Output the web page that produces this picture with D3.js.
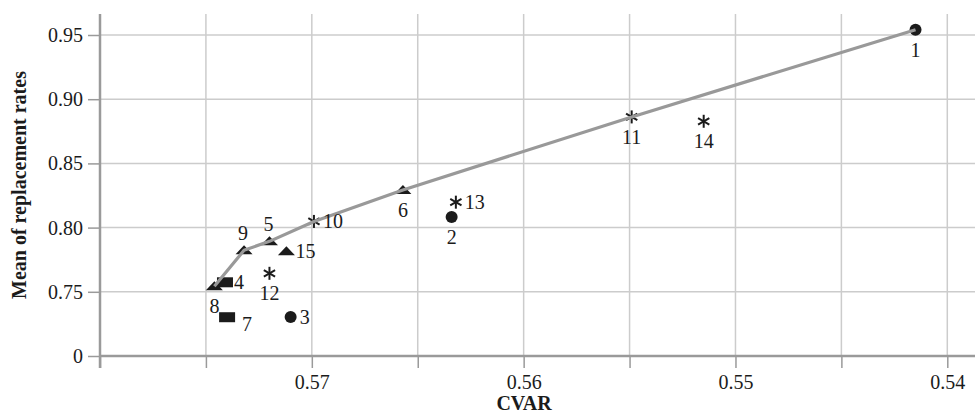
<!DOCTYPE html>
<html>
<head>
<meta charset="utf-8">
<script src="https://cdn.jsdelivr.net/npm/d3@7"></script>
<style>
  html, body { margin: 0; padding: 0; background: #fff; }
  svg { display: block; font-family: "Liberation Serif", "Times New Roman", serif; }
</style>
</head>
<body>
<svg id="chart" width="975" height="414"></svg>
<script>
// ---- data ----
const ids = [1, 2, 3, 4, 5, 6, 7, 8, 9, 10, 11, 12, 13, 14, 15];
const cvar = [0.5415, 0.5634, 0.5710, 0.5741, 0.5720, 0.5657, 0.5740, 0.5746, 0.5732, 0.5699, 0.5549, 0.5720, 0.5632, 0.5515, 0.5712];
const meanRate = [0.9541, 0.8082, 0.7304, 0.7574, 0.7893, 0.8293, 0.7302, 0.7543, 0.7823, 0.8048, 0.8862, 0.7644, 0.8198, 0.8828, 0.7815];
const shapes = ["circle", "circle", "circle", "square", "triangle", "triangle", "square", "triangle", "triangle", "asterisk", "asterisk", "asterisk", "asterisk", "asterisk", "triangle"];
const labelPlacement = ["below", "below", "right", "right", "above", "below", "rightLow", "below", "above", "right", "below", "below", "right", "below", "right"];
const frontierIds = [8, 9, 5, 10, 6, 11, 1];
const xTicks = [0.58, 0.575, 0.57, 0.565, 0.56, 0.555, 0.55, 0.545, 0.54];
const xTickLabels = ["", "", "0.57", "", "0.56", "", "0.55", "", "0.54"];
const yTicks = [0.70, 0.75, 0.80, 0.85, 0.90, 0.95];
const yTickLabels = ["0", "0.75", "0.80", "0.85", "0.90", "0.95"];
const xTitle = "CVAR";
const yTitle = "Mean of replacement rates";

// ---- layout ----
const plotLeft = 100, axisY = 356, plotTop = 14, rightEdge = 975;
const serif = "'Liberation Serif', 'Times New Roman', serif";
const svg = d3.select("#chart");

const x = d3.scaleLinear().domain([0.58, 0.54]).range([plotLeft, 947.3]);
const y = d3.scaleLinear().domain([0.70, 0.95]).range([axisY, 35]);

const gridColor = "#cccccc", axisColor = "#9a9a9a", ink = "#1b1b1b";

// vertical gridlines
svg.append("g").selectAll("line").data(xTicks.filter(t => t !== 0.58)).join("line")
  .attr("x1", d => x(d)).attr("x2", d => x(d))
  .attr("y1", plotTop).attr("y2", axisY)
  .attr("stroke", gridColor).attr("stroke-width", 1.5);
// horizontal gridlines
svg.append("g").selectAll("line").data(yTicks.filter(t => t !== 0.70)).join("line")
  .attr("x1", plotLeft).attr("x2", rightEdge)
  .attr("y1", d => y(d)).attr("y2", d => y(d))
  .attr("stroke", gridColor).attr("stroke-width", 1.5);

// x axis
const xAxis = d3.axisBottom(x).tickValues(xTicks).tickSize(12).tickPadding(7)
  .tickFormat((d, i) => xTickLabels[i]);
const gx = svg.append("g").attr("transform", `translate(0,${axisY})`).call(xAxis)
  .attr("font-family", serif).attr("font-size", 20);
gx.select(".domain").remove();
gx.selectAll(".tick line").attr("stroke", axisColor).attr("stroke-width", 1.5);
gx.selectAll(".tick text").attr("fill", ink).attr("dy", "0.71em");
svg.append("line").attr("x1", plotLeft).attr("x2", rightEdge).attr("y1", axisY).attr("y2", axisY)
  .attr("stroke", axisColor).attr("stroke-width", 2.5);

// y axis
const yAxis = d3.axisLeft(y).tickValues(yTicks).tickSize(12).tickPadding(5)
  .tickFormat((d, i) => yTickLabels[i]);
const gy = svg.append("g").attr("transform", `translate(${plotLeft},0)`).call(yAxis)
  .attr("font-family", serif).attr("font-size", 20);
gy.select(".domain").remove();
gy.selectAll(".tick line").attr("stroke", axisColor).attr("stroke-width", 1.5);
gy.selectAll(".tick text").attr("fill", ink);
svg.append("line").attr("x1", plotLeft).attr("x2", plotLeft).attr("y1", plotTop).attr("y2", axisY + 12)
  .attr("stroke", axisColor).attr("stroke-width", 2.5);

// titles
svg.append("text").attr("x", 524).attr("y", 410).attr("text-anchor", "middle")
  .attr("font-family", serif).attr("font-size", 20).attr("font-weight", "bold").attr("fill", ink).text(xTitle);
svg.append("text").attr("transform", "translate(26,185) rotate(-90)").attr("text-anchor", "middle")
  .attr("font-family", serif).attr("font-size", 20).attr("font-weight", "bold").attr("fill", ink).text(yTitle);

// points
const pts = ids.map((id, i) => ({ id, cx: x(cvar[i]), cy: y(meanRate[i]), shape: shapes[i], place: labelPlacement[i] }));
const gm = svg.append("g");
pts.forEach(p => {
  if (p.shape === "circle") {
    gm.append("circle").attr("cx", p.cx).attr("cy", p.cy).attr("r", 6).attr("fill", ink);
  } else if (p.shape === "square") {
    gm.append("rect").attr("x", p.cx - 8).attr("y", p.cy - 5).attr("width", 16).attr("height", 10).attr("fill", ink);
  } else if (p.shape === "triangle") {
    gm.append("path").attr("d", `M${p.cx - 8.5},${p.cy + 4}L${p.cx + 8.5},${p.cy + 4}L${p.cx},${p.cy - 5}Z`).attr("fill", ink);
  } else {
    const r = 6.5;
    [90, 30, -30].forEach(a => {
      const rad = a * Math.PI / 180, dx = r * Math.cos(rad), dy = r * Math.sin(rad);
      gm.append("line").attr("x1", p.cx - dx).attr("y1", p.cy - dy).attr("x2", p.cx + dx).attr("y2", p.cy + dy)
        .attr("stroke", ink).attr("stroke-width", 2);
    });
  }
});

// frontier line
const byId = new Map(pts.map(p => [p.id, p]));
svg.append("path")
  .datum(frontierIds.map(id => byId.get(id)))
  .attr("d", d3.line().x(d => d.cx).y(d => d.cy))
  .attr("fill", "none").attr("stroke", "#999999").attr("stroke-width", 3.2)
  .attr("stroke-linejoin", "round");

// labels
const offsets = {
  below: { dx: 0, dy: 20, anchor: "middle" },
  above: { dx: -1, dy: -17, anchor: "middle" },
  right: { dx: 9, dy: 0, anchor: "start" },
  rightLow: { dx: 15, dy: 7, anchor: "start" }
};
svg.append("g").selectAll("text").data(pts).join("text")
  .attr("x", d => d.cx + offsets[d.place].dx)
  .attr("y", d => d.cy + offsets[d.place].dy)
  .attr("dy", "0.35em")
  .attr("text-anchor", d => offsets[d.place].anchor)
  .attr("font-family", serif).attr("font-size", 20).attr("fill", ink)
  .text(d => d.id);
</script>
</body>
</html>
